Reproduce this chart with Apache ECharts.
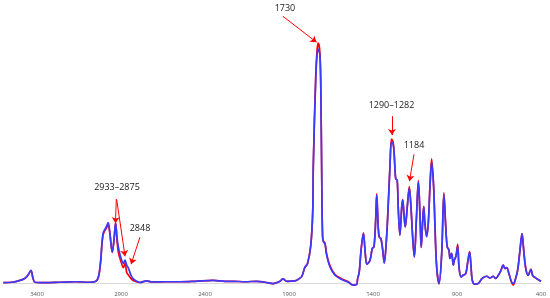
<!DOCTYPE html>
<html>
<head>
<meta charset="utf-8">
<script src="https://cdn.jsdelivr.net/npm/echarts@6/dist/echarts.min.js"></script>
<style>
  html, body { margin: 0; padding: 0; background: #fff; }
  #main { width: 550px; height: 298px; }
</style>
</head>
<body>
<div id="main"></div>
<script>
// wavenumbers (cm-1), high to low
const wavenumbers = [3600, 3549, 3501, 3471, 3454, 3436, 3424, 3412, 3352, 3263, 3174, 3085, 3043, 3025, 3007, 2989, 2976, 2966, 2952, 2942, 2932, 2924, 2916, 2900, 2886, 2876, 2866, 2857, 2836, 2817, 2787, 2747, 2717, 2638, 2549, 2460, 2352, 2281, 2233, 2162, 2090, 2043, 1995, 1954, 1936, 1912, 1864, 1835, 1823, 1805, 1790, 1771, 1759, 1755, 1741, 1733, 1726, 1716, 1710, 1704, 1700, 1695, 1686, 1676, 1656, 1626, 1586, 1547, 1519, 1497, 1492, 1482, 1471, 1457, 1446, 1436, 1418, 1404, 1394, 1384, 1378, 1369, 1363, 1353, 1342, 1333, 1319, 1309, 1299, 1290, 1281, 1274, 1265, 1256, 1250, 1240, 1229, 1223, 1216, 1208, 1196, 1184, 1174, 1164, 1154, 1142, 1130, 1120, 1113, 1104, 1098, 1091, 1081, 1071, 1061, 1051, 1039, 1031, 1021, 1007, 991, 978, 967, 958, 948, 942, 932, 922, 916, 906, 896, 888, 876, 863, 848, 836, 825, 817, 809, 793, 773, 750, 723, 704, 684, 670, 654, 638, 625, 614, 604, 591, 575, 565, 551, 539, 525, 513, 503, 491, 476, 460, 450, 436, 416, 400];
// blue trace (absorbance, normalised)
const blueAbs = [0.002, 0.004, 0.012, 0.021, 0.033, 0.054, 0.021, 0.004, 0.002, 0.004, 0.006, 0.004, 0.012, 0.067, 0.208, 0.233, 0.253, 0.208, 0.130, 0.179, 0.249, 0.192, 0.151, 0.104, 0.083, 0.096, 0.075, 0.065, 0.026, 0.012, 0.003, 0.010, 0.005, 0.006, 0.006, 0.008, 0.012, 0.008, 0.008, 0.006, 0.008, 0.004, -0.002, 0.008, 0.018, 0.008, 0.010, 0.021, 0.029, 0.067, 0.081, 0.154, 0.292, 0.50, 0.846, 0.95, 0.975, 0.95, 0.775, 0.358, 0.193, 0.172, 0.165, 0.117, 0.068, 0.033, 0.015, 0.004, -0.008, -0.004, 0.017, 0.046, 0.138, 0.208, 0.124, 0.079, 0.096, 0.145, 0.151, 0.263, 0.367, 0.235, 0.193, 0.186, 0.138, 0.085, 0.193, 0.332, 0.485, 0.588, 0.583, 0.540, 0.436, 0.429, 0.318, 0.200, 0.318, 0.346, 0.290, 0.235, 0.318, 0.395, 0.318, 0.193, 0.110, 0.263, 0.422, 0.276, 0.149, 0.263, 0.318, 0.249, 0.193, 0.249, 0.401, 0.505, 0.401, 0.235, 0.068, -0.001, 0.124, 0.369, 0.235, 0.149, 0.138, 0.103, 0.124, 0.075, 0.096, 0.113, 0.154, 0.068, 0.026, 0.033, 0.040, 0.089, 0.130, 0.075, 0.012, -0.004, -0.001, 0.020, 0.029, 0.022, 0.029, 0.020, 0.033, 0.054, 0.075, 0.061, 0.065, 0.040, 0.005, -0.001, 0.020, 0.054, 0.138, 0.207, 0.138, 0.061, 0.033, 0.057, 0.033, 0.024, 0.015, 0.008];
// red trace
const redAbs = [0.002, 0.004, 0.012, 0.021, 0.033, 0.052, 0.021, 0.004, 0.002, 0.004, 0.006, 0.004, 0.012, 0.065, 0.200, 0.228, 0.240, 0.205, 0.128, 0.178, 0.252, 0.180, 0.130, 0.090, 0.065, 0.083, 0.045, 0.035, 0.016, 0.008, 0.003, 0.010, 0.005, 0.006, 0.006, 0.008, 0.012, 0.008, 0.008, 0.006, 0.008, 0.004, -0.002, 0.008, 0.018, 0.008, 0.010, 0.021, 0.029, 0.067, 0.081, 0.154, 0.292, 0.50, 0.86, 0.97, 1.000, 0.96, 0.78, 0.36, 0.196, 0.175, 0.168, 0.122, 0.072, 0.036, 0.018, 0.006, -0.008, -0.004, 0.017, 0.046, 0.138, 0.210, 0.124, 0.079, 0.096, 0.145, 0.152, 0.265, 0.372, 0.235, 0.193, 0.186, 0.138, 0.085, 0.193, 0.332, 0.488, 0.600, 0.590, 0.540, 0.436, 0.429, 0.318, 0.200, 0.318, 0.348, 0.290, 0.235, 0.318, 0.403, 0.318, 0.193, 0.110, 0.263, 0.427, 0.276, 0.149, 0.263, 0.320, 0.249, 0.197, 0.249, 0.401, 0.518, 0.401, 0.235, 0.068, -0.003, 0.124, 0.376, 0.235, 0.152, 0.140, 0.103, 0.124, 0.075, 0.096, 0.113, 0.162, 0.068, 0.026, 0.033, 0.040, 0.089, 0.132, 0.075, 0.012, -0.004, -0.001, 0.020, 0.029, 0.022, 0.029, 0.020, 0.033, 0.054, 0.075, 0.061, 0.065, 0.040, 0.003, -0.008, 0.020, 0.054, 0.138, 0.207, 0.138, 0.064, 0.033, 0.059, 0.033, 0.024, 0.015, 0.008];

// annotation labels [text, wn, abs] and arrows [fromWn, fromAbs, toWn, toAbs]
const noteLabels = [['1730', 1924, 1.146], ['1290\u20131282', 1290, 0.742], ['1184', 1156, 0.575], ['2933\u20132875', 2924, 0.40], ['2848', 2787, 0.229]];
const noteArrows = [[1936, 1.112, 1736, 1.004], [1287, 0.696, 1287, 0.617], [1156, 0.537, 1183, 0.425], [2928, 0.35, 2933, 0.25], [2926, 0.35, 2876, 0.112], [2787, 0.192, 2840, 0.079]];

window.addEventListener('load', function () {
    let chart = echarts.init(document.getElementById('main'));
    let pairs = function (vals) {
        return wavenumbers.map(function (w, i) { return [w, vals[i]]; });
    };
    let option = {
        animation: false,
        grid: { left: 3.4, right: 9, top: 0, bottom: 10, containLabel: false, outerBoundsMode: 'none' },
        xAxis: {
            type: 'value',
            inverse: true,
            min: 400,
            max: 3600,
            interval: 500,
            axisLine: { onZero: true, lineStyle: { color: '#d9d9d9', width: 1 } },
            axisTick: { show: false },
            splitLine: { show: false },
            axisLabel: {
                color: '#595959', fontSize: 6, margin: 3, fontFamily: 'Open Sans',
                showMaxLabel: false,
                formatter: function (v) { return String(v); }
            }
        },
        yAxis: {
            type: 'value',
            min: -0.02,
            max: 1.18,
            show: false,
            splitLine: { show: false }
        },
        series: [{
            name: 'red',
            type: 'line',
            data: pairs(redAbs),
            smooth: 0.35,
            symbol: 'none',
            lineStyle: { color: '#ff0000', width: 1.7 },
            z: 2,
            markLine: {
                silent: true,
                symbol: ['none', 'arrow'],
                symbolSize: 6,
                label: { show: false },
                lineStyle: { color: '#ff0000', width: 1, type: 'solid' },
                data: noteArrows.map(function (a) {
                    return [{ coord: [a[0], a[1]] }, { coord: [a[2], a[3]] }];
                })
            },
            markPoint: {
                silent: true,
                symbol: 'circle',
                symbolSize: 1,
                itemStyle: { color: 'rgba(0,0,0,0)' },
                label: {
                    show: true,
                    position: 'inside',
                    color: '#1a1a1a',
                    fontSize: 9,
                    fontFamily: 'Open Sans',
                    formatter: function (p) { return p.name; }
                },
                data: noteLabels.map(function (n) {
                    return { name: n[0], coord: [n[1], n[2]] };
                })
            }
        }, {
            name: 'blue',
            type: 'line',
            data: pairs(blueAbs),
            smooth: 0.35,
            symbol: 'none',
            lineStyle: { color: '#3b3bff', width: 1.7 },
            z: 3
        }]
    };
    chart.setOption(option);
}, false);
</script>
</body>
</html>
